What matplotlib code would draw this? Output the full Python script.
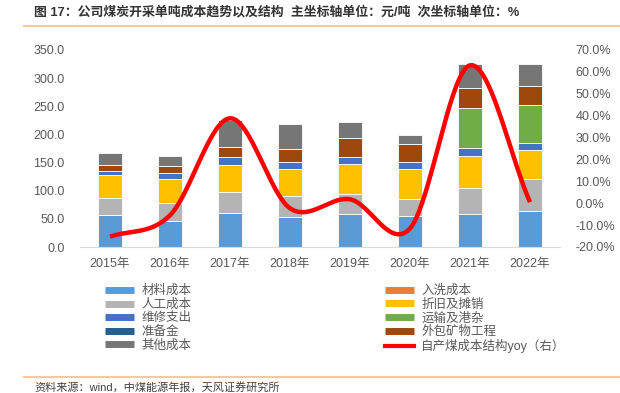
import numpy as np
import matplotlib.pyplot as plt
from matplotlib.lines import Line2D

plt.rcParams['font.family'] = ['Liberation Sans', 'Noto Sans CJK SC', 'DejaVu Sans']

years = ['2015年', '2016年', '2017年', '2018年', '2019年', '2020年', '2021年', '2022年']

# unit: yuan per ton
material = [56.3, 45.6, 60.9, 53.8, 59.2, 55.6, 59.2, 64.5]
washing = [0, 0, 0, 0, 0, 0, 0, 0]
labor = [30.2, 33.0, 37.3, 37.3, 35.0, 30.2, 45.1, 56.3]
depreciation = [41.4, 42.6, 47.4, 47.4, 53.3, 53.3, 57.9, 51.5]
repair = [6.6, 10.1, 13.7, 13.0, 12.4, 12.4, 14.2, 13.0]
transport = [0, 0, 0, 0, 0, 0, 70.5, 67.5]
reserve = [0, 0, 0, 0, 0, 0, 0, 0]
outsourcing = [11.2, 11.9, 17.8, 23.1, 33.7, 30.9, 35.0, 33.7]
other = [20.8, 18.8, 48.5, 43.3, 28.4, 16.5, 42.6, 38.0]

# yoy, percent
yoy = [-15.3, -5.5, 38.8, -2.3, 1.8, -11.5, 63.0, 0.5]

series = [
    ('材料成本', material, '#5B9BD5'),
    ('入洗成本', washing, '#ED7D31'),
    ('人工成本', labor, '#B4B4B4'),
    ('折旧及摊销', depreciation, '#FFC000'),
    ('维修支出', repair, '#4472C4'),
    ('运输及港杂', transport, '#70AD47'),
    ('准备金', reserve, '#255E91'),
    ('外包矿物工程', outsourcing, '#9E480E'),
    ('其他成本', other, '#767676'),
]


def smooth(xs, ys, n=40):
    # excel-style smoothed line (catmull-rom bezier)
    xs = np.asarray(xs, float)
    ys = np.asarray(ys, float)
    px = np.concatenate([[2 * xs[0] - xs[1]], xs, [2 * xs[-1] - xs[-2]]])
    py = np.concatenate([[2 * ys[0] - ys[1]], ys, [2 * ys[-1] - ys[-2]]])
    outx, outy = [], []
    t = np.linspace(0, 1, n)
    for i in range(1, len(px) - 2):
        p0 = np.array([px[i], py[i]])
        p3 = np.array([px[i + 1], py[i + 1]])
        c1 = p0 + (np.array([px[i + 1], py[i + 1]]) - np.array([px[i - 1], py[i - 1]])) / 6
        c2 = p3 - (np.array([px[i + 2], py[i + 2]]) - np.array([px[i], py[i]])) / 6
        b = ((1 - t) ** 3)[:, None] * p0 + (3 * (1 - t) ** 2 * t)[:, None] * c1 \
            + (3 * (1 - t) * t ** 2)[:, None] * c2 + (t ** 3)[:, None] * p3
        outx.extend(b[:, 0])
        outy.extend(b[:, 1])
    return np.array(outx), np.array(outy)


fig = plt.figure(figsize=(6.2, 3.93), dpi=100)
ax = fig.add_axes([80 / 620, 1 - 247 / 393, 480 / 620, 197 / 393])
ax2 = ax.twinx()

x = np.arange(len(years))
bottom = np.zeros(len(years))
for name, vals, color in series:
    ax.bar(x, vals, width=0.4, bottom=bottom, color=color, edgecolor='white', linewidth=0.6, zorder=2)
    bottom += np.array(vals)

sx, sy = smooth(x, yoy)
ax2.plot(sx, sy, color='#FF0000', lw=3.2, solid_capstyle='butt', zorder=3)

ax.set_xlim(-0.5, len(years) - 0.5)
ax.set_ylim(0, 350)
ax.set_yticks(np.arange(0, 351, 50))
ax.set_yticklabels([f'{v:.1f}' for v in np.arange(0, 351, 50)])
ax2.set_ylim(-20, 70)
ax2.set_yticks(np.arange(-20, 71, 10))
ax2.set_yticklabels([f'{v:.1f}%' for v in np.arange(-20, 71, 10)])
ax.set_xticks(x)
ax.set_xticklabels(years)

for a in (ax, ax2):
    for s in a.spines.values():
        s.set_visible(False)
    a.tick_params(length=0, labelsize=9, colors='#595959')
ax.spines['bottom'].set_visible(True)
ax.spines['bottom'].set_color('#D9D9D9')
ax.tick_params(axis='y', pad=11)
ax.tick_params(axis='x', pad=8)
ax2.tick_params(axis='y', pad=11)
ax.set_zorder(1)
ax2.set_zorder(2)
ax2.patch.set_visible(False)

# legend: two columns placed by hand
left_names = ['材料成本', '人工成本', '维修支出', '准备金', '其他成本']
right_names = ['入洗成本', '折旧及摊销', '运输及港杂', '外包矿物工程']
colors = {n: c for n, v, c in series}
h1 = [Line2D([], [], color=colors[n], lw=5, solid_capstyle='butt') for n in left_names]
h2 = [Line2D([], [], color=colors[n], lw=5, solid_capstyle='butt') for n in right_names]
h2.append(Line2D([], [], color='#FF0000', lw=3))
right_labels = right_names + ['自产煤成本结构yoy（右）']
kw = dict(loc='upper left', frameon=False, fontsize=9, handlelength=2.3, handletextpad=0.6,
          labelspacing=0.12, borderpad=0, borderaxespad=0, labelcolor='#595959')
leg1 = fig.legend(h1, left_names, bbox_to_anchor=(105 / 620, 1 - 285 / 393), **kw)
leg2 = fig.legend(h2, right_labels, bbox_to_anchor=(385 / 620, 1 - 285 / 393), **kw)

# header and footer
fig.text(34 / 620, 1 - 12 / 393, '图 17：公司煤炭开采单吨成本趋势以及结构  主坐标轴单位：元/吨  次坐标轴单位：%',
         fontsize=9.3, fontweight='bold', color='#333333', va='center', ha='left')
fig.add_artist(Line2D([24 / 620, 1], [1 - 26 / 393, 1 - 26 / 393], color='#F8C89A', lw=1.5))
fig.add_artist(Line2D([24 / 620, 1], [1 - 377 / 393, 1 - 377 / 393], color='#F8C89A', lw=1.5))
fig.text(34 / 620, 1 - 387 / 393, '资料来源：wind，中煤能源年报，天风证券研究所',
         fontsize=8, color='#404040', va='center', ha='left')

fig.savefig('out.png', dpi=100)
